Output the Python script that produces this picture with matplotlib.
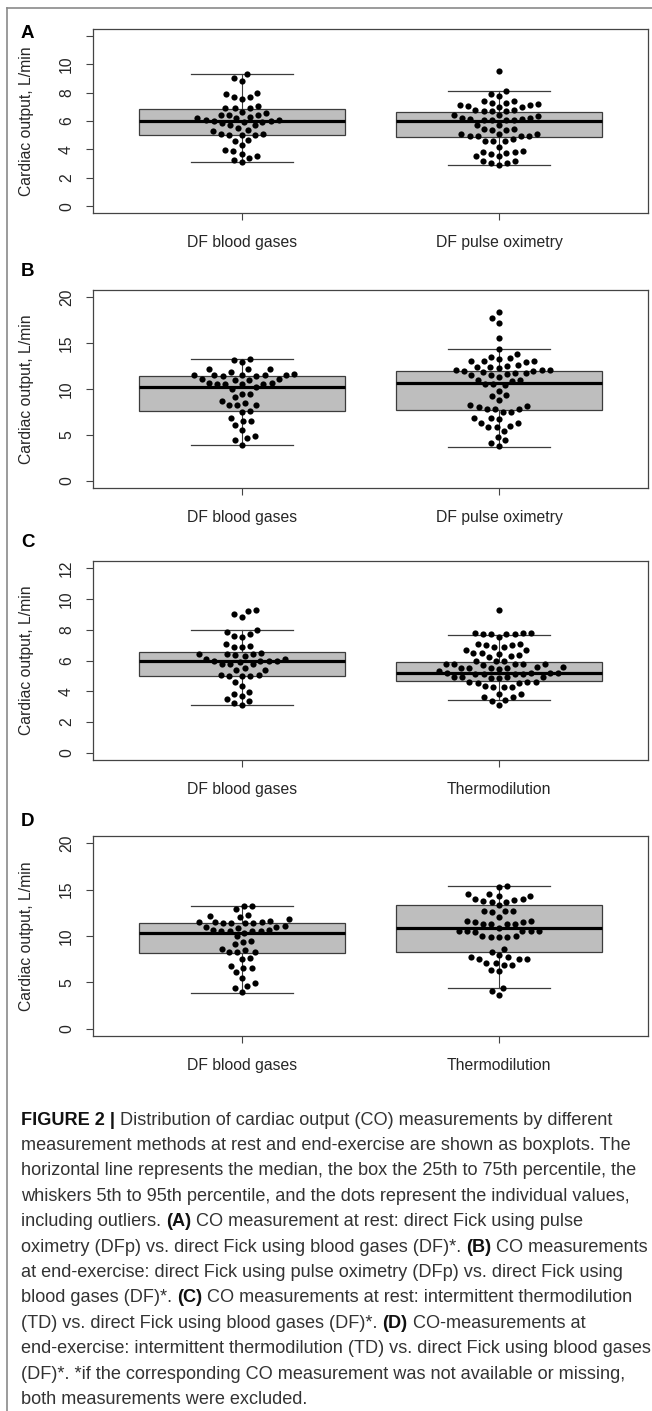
import numpy as np
import matplotlib.pyplot as plt
from matplotlib.lines import Line2D

plt.rcParams['font.family'] = ['Liberation Sans', 'DejaVu Sans']

# ---- data ----
a_names = ['DF blood gases', 'DF pulse oximetry']
b_names = ['DF blood gases', 'DF pulse oximetry']
c_names = ['DF blood gases', 'Thermodilution']
d_names = ['DF blood gases', 'Thermodilution']

# individual CO values, L/min
a_df = [9.3, 9.06, 8.83, 8.0, 7.87, 7.7, 7.7, 7.54, 7.03, 6.95, 6.9, 6.9, 6.6, 6.56,
        6.44, 6.44, 6.44, 6.3, 6.2, 6.2, 6.1, 6.1, 6.0, 6.0, 5.95, 5.9, 5.85, 5.74,
        5.74, 5.5, 5.4, 5.3, 5.08, 5.0, 5.0, 5.0, 5.05, 4.6, 4.65, 4.28, 3.93, 3.86,
        3.68, 3.51, 3.4, 3.28, 3.09]
a_dfp = [9.5, 8.1, 7.9, 7.75, 7.4, 7.3, 7.4, 7.3, 7.2, 7.0, 6.98, 7.1, 7.05, 7.1,
         6.7, 6.7, 6.7, 6.8, 6.8, 6.4, 6.35, 6.4, 6.2, 6.1, 6.1, 6.05, 6.15, 6.15,
         6.05, 6.2, 5.75, 5.7, 5.45, 5.35, 5.35, 5.45, 5.05, 4.95, 4.95, 5.05, 5.05,
         4.95, 4.95, 4.6, 4.6, 4.6, 4.7, 4.2, 3.85, 3.85, 3.75, 3.9, 3.7, 3.5, 3.5,
         3.2, 3.05, 3.05, 3.15, 2.9]
b_df = [13.25, 13.2, 12.9, 12.2, 12.2, 12.15, 11.8, 11.5, 11.5, 11.5, 11.4, 11.4,
        11.5, 11.5, 11.6, 11.0, 11.0, 11.05, 11.1, 10.6, 10.5, 10.55, 10.55, 10.6,
        10.55, 10.2, 9.95, 9.5, 9.5, 9.1, 8.65, 8.5, 8.25, 8.25, 8.25, 7.6, 7.5,
        6.8, 6.5, 6.5, 6.05, 5.5, 4.9, 4.6, 4.4, 3.9]
b_dfp = [18.4, 17.7, 17.2, 15.6, 14.4, 13.8, 13.5, 13.3, 13.4, 13.1, 13.0, 13.1,
         12.6, 12.55, 12.4, 12.3, 12.4, 12.9, 12.0, 11.75, 11.7, 12.05, 12.1, 12.1,
         12.0, 11.5, 11.35, 11.5, 11.8, 11.6, 11.0, 10.85, 11.0, 10.5, 10.4, 10.5,
         9.8, 9.3, 9.2, 8.75, 8.2, 8.0, 8.1, 7.85, 7.8, 7.85, 7.5, 7.5, 6.8, 6.7,
         6.8, 6.3, 6.25, 6.0, 5.8, 5.9, 5.4, 4.8, 4.4, 4.1, 3.8]
c_df = [9.3, 9.25, 9.05, 8.85, 8.0, 7.85, 7.7, 7.6, 7.5, 7.05, 6.95, 6.9, 6.9, 6.5,
        6.4, 6.4, 6.4, 6.35, 6.3, 6.1, 6.1, 6.0, 6.0, 5.97, 5.95, 5.9, 5.75, 5.75,
        5.8, 5.4, 5.4, 5.5, 5.05, 5.0, 5.0, 5.0, 5.05, 4.6, 4.35, 3.95, 3.85, 3.7,
        3.5, 3.35, 3.25, 3.1]
c_td = [9.3, 7.8, 7.8, 7.8, 7.75, 7.7, 7.75, 7.75, 7.5, 7.1, 7.1, 7.0, 7.0, 6.9,
        6.9, 6.7, 6.7, 6.5, 6.5, 6.45, 6.3, 6.25, 6.35, 6.0, 5.95, 5.95, 5.8, 5.8,
        5.75, 5.8, 5.75, 5.7, 5.6, 5.55, 5.5, 5.5, 5.45, 5.5, 5.5, 5.2, 5.2, 5.15,
        5.15, 5.15, 5.2, 5.15, 5.2, 5.3, 4.9, 4.9, 4.85, 4.85, 4.9, 4.9, 4.6, 4.55,
        4.55, 4.6, 4.6, 4.3, 4.3, 4.35, 4.25, 3.85, 3.85, 3.6, 3.6, 3.45, 3.35, 3.1]
d_df = [13.25, 13.2, 12.9, 12.25, 12.2, 12.1, 11.8, 11.5, 11.45, 11.45, 11.4, 11.4,
        11.5, 11.5, 11.6, 11.0, 11.0, 11.05, 10.9, 10.6, 10.5, 10.55, 10.55, 10.6,
        10.5, 10.3, 10.0, 9.5, 9.4, 9.1, 8.6, 8.5, 8.3, 8.25, 8.25, 7.6, 7.5, 6.8,
        6.5, 6.5, 6.1, 5.5, 4.9, 4.6, 4.4, 3.9]
d_td = [15.4, 15.3, 14.55, 14.5, 14.3, 14.3, 13.95, 13.8, 13.7, 13.7, 13.9, 14.0,
        13.3, 12.75, 12.7, 12.6, 12.75, 12.1, 11.65, 11.55, 11.5, 11.6, 11.3, 11.25,
        11.25, 11.3, 10.9, 10.55, 10.4, 10.5, 10.5, 10.5, 10.55, 9.95, 9.9, 9.9,
        9.9, 10.0, 8.6, 8.3, 7.9, 7.7, 7.75, 7.5, 7.5, 7.55, 7.05, 6.9, 6.9, 7.05,
        6.2, 6.3, 4.4, 4.1, 3.6]

# box stats: whisker low (5th), Q1, median, Q3, whisker high (95th)
a_stats = [[3.09, 5.03, 5.97, 6.88, 9.3], [2.9, 4.89, 6.02, 6.63, 8.1]]
b_stats = [[3.92, 7.62, 10.2, 11.45, 13.3], [3.7, 7.73, 10.6, 12.0, 14.4]]
c_stats = [[3.1, 5.0, 5.95, 6.55, 7.98], [3.4, 4.66, 5.2, 5.9, 7.66]]
d_stats = [[3.87, 8.2, 10.33, 11.4, 13.27], [4.41, 8.32, 10.85, 13.3, 15.44]]

a_yticks = [0, 2, 4, 6, 8, 10, 12]
a_ylabels = ['0', '2', '4', '6', '8', '10', '']
b_yticks = [0, 5, 10, 15, 20]
c_yticks = [0, 2, 4, 6, 8, 10, 12]
d_yticks = [0, 5, 10, 15, 20]

caption = [
    [("FIGURE 2 |", True), (" Distribution of cardiac output (CO) measurements by different", False)],
    [("measurement methods at rest and end-exercise are shown as boxplots. The", False)],
    [("horizontal line represents the median, the box the 25th to 75th percentile, the", False)],
    [("whiskers 5th to 95th percentile, and the dots represent the individual values,", False)],
    [("including outliers. ", False), ("(A)", True), (" CO measurement at rest: direct Fick using pulse", False)],
    [("oximetry (DFp) vs. direct Fick using blood gases (DF)*. ", False), ("(B)", True), (" CO measurements", False)],
    [("at end-exercise: direct Fick using pulse oximetry (DFp) vs. direct Fick using", False)],
    [("blood gases (DF)*. ", False), ("(C)", True), (" CO measurements at rest: intermittent thermodilution", False)],
    [("(TD) vs. direct Fick using blood gases (DF)*. ", False), ("(D)", True), (" CO-measurements at", False)],
    [("end-exercise: intermittent thermodilution (TD) vs. direct Fick using blood gases", False)],
    [("(DF)*. *if the corresponding CO measurement was not available or missing,", False)],
    [("both measurements were excluded.", False)],
]

W, H = 652, 1411
fig = plt.figure(figsize=(W / 100, H / 100), dpi=100)
fig.patch.set_facecolor('white')

# page frame (top and left rule)
fig.add_artist(Line2D([7 / W, 1], [1 - 8 / H, 1 - 8 / H], color='#8a8a8a', lw=1.2))
fig.add_artist(Line2D([7 / W, 7 / W], [0, 1 - 8 / H], color='#8a8a8a', lw=1.2))


def swarm(ypx, d):
    # simple beeswarm: each point as close to centre as it can get
    order = np.argsort(ypx, kind='stable')
    xs = np.zeros(len(ypx))
    placed = []
    for i in order:
        y = ypx[i]
        cands = [0.0]
        for j in placed:
            dy = abs(ypx[j] - y)
            if dy < d:
                dx = np.sqrt(d * d - dy * dy)
                cands += [xs[j] + dx, xs[j] - dx]
        cands.sort(key=lambda c: (round(abs(c), 6), c))
        for c in cands:
            if all((xs[j] - c) ** 2 + (ypx[j] - y) ** 2 >= d * d - 1e-6 for j in placed):
                xs[i] = c
                break
        placed.append(i)
    return xs


panels = [
    ('A', a_names, [a_df, a_dfp], a_stats, (0, 12), a_yticks, a_ylabels, 29, 213, 33),
    ('B', b_names, [b_df, b_dfp], b_stats, (0, 20), b_yticks, None, 290, 488, 271),
    ('C', c_names, [c_df, c_td], c_stats, (0, 12), c_yticks, None, 561, 760, 542),
    ('D', d_names, [d_df, d_td], d_stats, (0, 20), d_yticks, None, 836, 1036, 821),
]

txt_col = '#262626'
for letter, names, groups, stats, ylim, yticks, ylabels, top, bot, ly in panels:
    ax = fig.add_axes([93 / W, 1 - bot / H, (648 - 93) / W, (bot - top) / H])
    pad = 0.04 * (ylim[1] - ylim[0])
    ax.set_ylim(ylim[0] - pad, ylim[1] + pad)
    ax.set_xlim(0.42, 2.58)

    bxp_stats = [dict(whislo=s[0], q1=s[1], med=s[2], q3=s[3], whishi=s[4]) for s in stats]
    ax.bxp(bxp_stats, positions=[1, 2], widths=0.8, capwidths=0.4, showfliers=False,
           patch_artist=True,
           boxprops=dict(facecolor='#bebebe', edgecolor='#3c3c3c', linewidth=0.9),
           medianprops=dict(color='black', linewidth=2.3),
           whiskerprops=dict(color='#3c3c3c', linewidth=0.8),
           capprops=dict(color='#3c3c3c', linewidth=0.9))

    ppu = ax.transData.transform([[2, 0]])[0, 0] - ax.transData.transform([[1, 0]])[0, 0]
    for k, vals in enumerate(groups):
        v = np.array(vals, dtype=float)
        ypx = ax.transData.transform(np.column_stack([np.ones(len(v)), v]))[:, 1]
        off = swarm(ypx, 8.3) / ppu
        ax.scatter(k + 1 + off, v, s=20, color='black', linewidths=0, zorder=5)

    ax.set_xticks([1, 2])
    ax.set_xticklabels(names, fontsize=11.3, color=txt_col)
    ax.set_yticks(yticks)
    ax.set_yticklabels(ylabels if ylabels else [str(t) for t in yticks],
                       fontsize=11.3, color=txt_col, rotation=90, va='center', ha='center')
    ax.tick_params(axis='x', length=5, width=0.8, color='#444444', pad=10.5)
    ax.tick_params(axis='y', length=5, width=0.8, color='#444444', pad=14)
    for sp in ax.spines.values():
        sp.set_color('#444444')
        sp.set_linewidth(0.9)

    fig.text(27 / W, 1 - (top + bot) / 2 / H, 'Cardiac output, L/min', rotation=90,
             ha='center', va='center', fontsize=11.3, color=txt_col)
    fig.text(21 / W, 1 - ly / H, letter, ha='left', va='center', fontsize=13.5,
             fontweight='bold', color='black')

# ---- caption ----
renderer = fig.canvas.get_renderer()
cap_family = ['Liberation Sans Narrow', 'Liberation Sans']


def seg_width(s, size, bold):
    t1 = fig.text(0, 0, 'X' + s + 'X', fontsize=size, family=cap_family,
                  fontweight='bold' if bold else 'normal')
    t2 = fig.text(0, 0, 'XX', fontsize=size, family=cap_family,
                  fontweight='bold' if bold else 'normal')
    w = t1.get_window_extent(renderer).width - t2.get_window_extent(renderer).width
    t1.remove()
    t2.remove()
    return w


ref = caption[1][0][0]
cap_size = 10 * 612 / seg_width(ref, 10, False)
em_px = cap_size * 100 / 72
for i, line in enumerate(caption):
    yc = 1118 + i * 25.4
    base = yc + 0.36 * em_px
    x = 21.0
    for s, bold in line:
        fig.text(x / W, 1 - base / H, s, fontsize=cap_size, family=cap_family,
                 fontweight='bold' if bold else 'normal', va='baseline', ha='left',
                 color='#111111' if bold else '#333333')
        x += seg_width(s, cap_size, bold)

fig.savefig('out.png', dpi=100, facecolor='white')
